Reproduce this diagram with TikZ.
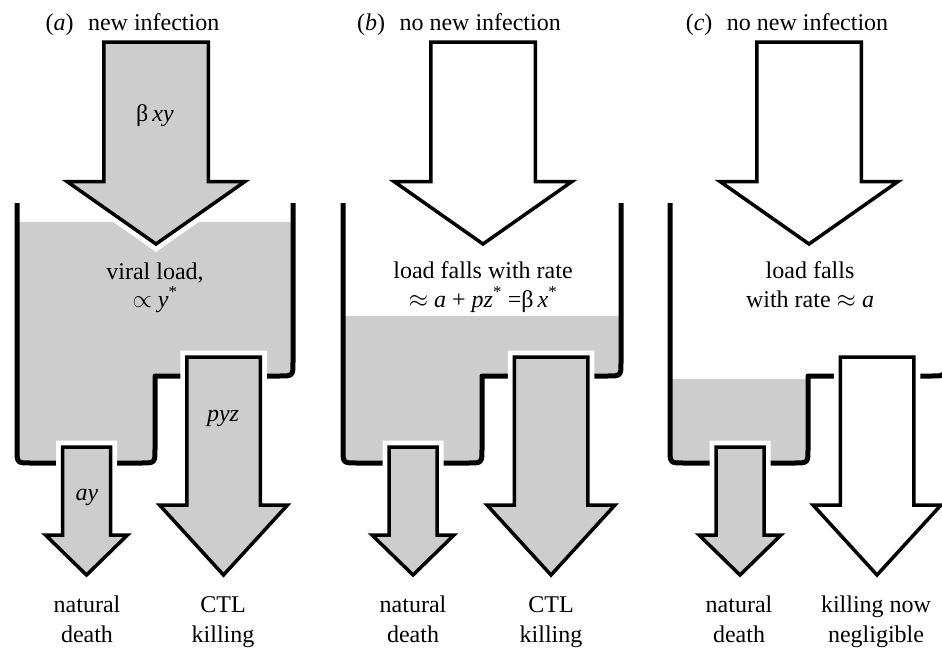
\documentclass[tikz,border=0pt]{standalone}
\usepackage{fontspec}
\setmainfont{Liberation Serif}
\definecolor{liq}{RGB}{205,205,205}
\tikzset{
  wall/.style={line width=5pt, line cap=butt, line join=round},
  halo/.style={draw=white, line width=13pt, line join=miter},
  arrowbody/.style={draw=black, line width=3.5pt, line join=miter},
  lbl/.style={anchor=base, inner sep=0pt, font=\fontsize{24}{28}\selectfont},
}
% #1 cx, #2 top, #3 head start, #4 tip, #5 half shaft, #6 half head, #7 fill
\newcommand{\flowarrow}[7]{%
  \draw[halo] ({#1-#5},#2) -- ({#1+#5},#2) -- ({#1+#5},#3) -- ({#1+#6},#3) -- (#1,#4) -- ({#1-#6},#3) -- ({#1-#5},#3) -- cycle;
  \draw[arrowbody,fill=#7] ({#1-#5},#2) -- ({#1+#5},#2) -- ({#1+#5},#3) -- ({#1+#6},#3) -- (#1,#4) -- ({#1-#6},#3) -- ({#1-#5},#3) -- cycle;
}
% #1 left wall, #2 step x, #3 right wall
\newcommand{\tankwalls}[3]{%
  \draw[wall] (#1,203) -- (#1,449) .. controls (#1,463) .. ({#1+14},463) -- ({#2-14},463) .. controls (#2,463) .. (#2,449) -- (#2,376) -- ({#3-14},376) .. controls (#3,376) .. (#3,362) -- (#3,203);
}
% #1 left wall, #2 step x, #3 right wall, #4 liquid level (above step)
\newcommand{\tankliquid}[4]{%
  \fill[liq] (#1,#4) -- (#1,449) .. controls (#1,463) .. ({#1+14},463) -- ({#2-14},463) .. controls (#2,463) .. (#2,449) -- (#2,376) -- ({#3-14},376) .. controls (#3,376) .. (#3,362) -- (#3,#4) -- cycle;
}
\begin{document}
\begin{tikzpicture}[x=1pt,y=-1pt]
\useasboundingbox (0,0) rectangle (942,648);

% ---------------- panel a ----------------
\tankliquid{17}{155}{293}{222}
\tankwalls{17}{155}{293}
\flowarrow{156}{42}{181.5}{244}{52.25}{89}{liq}
\flowarrow{86.5}{447}{535}{575}{24}{41}{liq}
\flowarrow{223.5}{357}{505}{575}{36.75}{64}{liq}

\node[lbl] (ta) at (132.5,30) {(\textit{a})\hspace{0.6em}new infection};
\node[lbl] (fa) at (155,121) {β\,\textit{xy}};
\node[lbl] (la1) at (155,279) {viral load,};
\node[lbl] (la2) at (155,307) {$\propto$ \textit{y}\textsuperscript{*}};
\node[lbl] (pa) at (223,421) {\textit{pyz}};
\node[lbl] (da) at (87,500) {\textit{ay}};
\node[lbl] (na1) at (87,612) {natural};
\node[lbl] (na2) at (87,642) {death};
\node[lbl] (ka1) at (223,612) {CTL};
\node[lbl] (ka2) at (223,642) {killing};

% ---------------- panel b ----------------
\tankliquid{343}{482}{621}{316}
\tankwalls{343}{482}{621}
\flowarrow{483}{42}{181.5}{244}{52.25}{89}{white}
\flowarrow{413}{447}{535}{575}{24}{41}{liq}
\flowarrow{551}{357}{505}{575}{36.75}{64}{liq}

\node[lbl] (tb) at (459,30) {(\textit{b})\hspace{0.6em}no new infection};
\node[lbl] (lb1) at (483,278) {load falls with rate};
\node[lbl] (lb2) at (483,307) {$\approx$ \textit{a} + \textit{pz}\textsuperscript{*} =β\,\textit{x}\textsuperscript{*}};
\node[lbl] (nb1) at (413,612) {natural};
\node[lbl] (nb2) at (413,642) {death};
\node[lbl] (kb1) at (551,612) {CTL};
\node[lbl] (kb2) at (551,642) {killing};

% ---------------- panel c ----------------
\fill[liq] (670,379) -- (670,449) .. controls (670,463) .. (684,463) -- (794,463) .. controls (808,463) .. (808,449) -- (808,379) -- cycle;
\tankwalls{670}{808}{945}
\flowarrow{809}{42}{181.5}{244}{52.25}{89}{white}
\flowarrow{740}{447}{535}{575}{24}{41}{liq}
\flowarrow{877}{357}{505}{575}{36.75}{64}{white}

\node[lbl] (tc) at (787,30) {(\textit{c})\hspace{0.6em}no new infection};
\node[lbl] (lc1) at (810,278) {load falls};
\node[lbl] (lc2) at (810,307) {with rate $\approx$ \textit{a}};
\node[lbl] (nc1) at (739,612) {natural};
\node[lbl] (nc2) at (739,642) {death};
\node[lbl] (kc1) at (876,612) {killing now};
\node[lbl] (kc2) at (876,642) {negligible};
\end{tikzpicture}
\end{document}
